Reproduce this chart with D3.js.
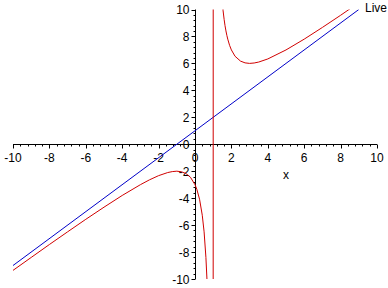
<!DOCTYPE html>
<html lang="en">
<head>
  <meta charset="UTF-8">
  <title>Maple plot</title>
  <script src="https://d3js.org/d3.v7.min.js"></script>
  <style>
    body { margin: 0; background: #fff; }
    text { font-family: "Liberation Sans", Arial, sans-serif; font-size: 12px; fill: #000; }
  </style>
</head>
<body>
<script type="text/javascript">
    // red curve, sampled along x (one polyline, jumps across x = 1)
    var redX = [-10, -9, -8, -7, -6, -5, -4, -3, -2.5, -2, -1.5, -1.25, -1, -0.75, -0.5, -0.25, 0, 0.1, 0.25, 0.4, 0.5, 0.6, 0.66, 0.98,
                1.02, 1.54, 1.6, 1.65, 1.7, 1.75, 1.8, 1.9, 2, 2.2, 2.5, 2.75, 3, 3.25, 3.5, 4, 5, 6, 7, 8, 8.46, 9, 10];
    var redY = [-9.36, -8.4, -7.44, -6.5, -5.57, -4.67, -3.8, -3, -2.64, -2.33, -2.1, -2.03, -2, -2.04, -2.17, -2.45, -3, -3.34, -4.08, -5.27, -6.5, -8.4, -10.1, -198,
                202, 9.95, 9.27, 8.8, 8.41, 8.08, 7.8, 7.34, 7, 6.53, 6.17, 6.04, 6, 6.03, 6.1, 6.33, 7, 7.8, 8.67, 9.57, 10, 10.5, 12.44];
    // blue line
    var blueX = [-10, 9];
    var blueY = [-9, 10];

    var xTicks = [-10, -8, -6, -4, -2, 0, 2, 4, 6, 8, 10];
    var yTicks = [-10, -8, -6, -4, -2, 0, 2, 4, 6, 8, 10];

    var width = 388, height = 288;

    var svg = d3.select("body").append("svg")
                               .attr("width", width)
                               .attr("height", height);

    var x = d3.scaleLinear().domain([-10, 10]).range([13, 377]);
    var y = d3.scaleLinear().domain([-10, 10]).range([279, 9.5]);

    svg.append("clipPath").attr("id", "clip")
       .append("rect")
       .attr("x", x(-10)).attr("y", y(10))
       .attr("width", x(10) - x(-10)).attr("height", y(-10) - y(10));

    var minor = d3.range(-10, 10.001, 0.4).map(function(d){ return Math.round(d * 10) / 10; });

    // x axis (ticks hang below)
    var gx = svg.append("g").attr("transform", "translate(0," + Math.round(y(0)) + ".5)");
    gx.append("line").attr("x1", x(-10)).attr("x2", x(10)).attr("stroke", "#000");
    gx.selectAll("line.mn").data(minor).enter().append("line")
      .attr("class", "mn")
      .attr("x1", function(d){ return Math.round(x(d)) + 0.5; })
      .attr("x2", function(d){ return Math.round(x(d)) + 0.5; })
      .attr("y1", 0)
      .attr("y2", function(d){ return xTicks.indexOf(d) >= 0 ? 4 : 2; })
      .attr("stroke", "#000");
    gx.selectAll("text").data(xTicks).enter().append("text")
      .attr("x", function(d){ return x(d); })
      .attr("y", 17)
      .attr("text-anchor", "middle")
      .text(function(d){ return d; });

    // y axis (ticks point left)
    var gy = svg.append("g").attr("transform", "translate(" + Math.round(x(0)) + ".5,0)");
    gy.append("line").attr("y1", y(-10)).attr("y2", y(10)).attr("stroke", "#000");
    gy.selectAll("line.mn").data(minor).enter().append("line")
      .attr("class", "mn")
      .attr("y1", function(d){ return Math.round(y(d)) + 0.5; })
      .attr("y2", function(d){ return Math.round(y(d)) + 0.5; })
      .attr("x1", 0)
      .attr("x2", function(d){ return yTicks.indexOf(d) >= 0 ? -4 : -2; })
      .attr("stroke", "#000");
    gy.selectAll("text").data(yTicks).enter().append("text")
      .attr("x", -6)
      .attr("y", function(d){ return y(d) + 4.5; })
      .attr("text-anchor", "end")
      .text(function(d){ return d; });

    svg.append("text").attr("x", 286).attr("y", 179).attr("text-anchor", "middle").text("x");

    var line = d3.line()
      .x(function(d){ return x(d[0]); })
      .y(function(d){ return y(d[1]); });

    var plot = svg.append("g").attr("clip-path", "url(#clip)");

    plot.append("path")
        .attr("d", line(d3.zip(blueX, blueY)))
        .attr("fill", "none")
        .attr("stroke", "#0000c8")
        .attr("stroke-width", 1);

    plot.append("path")
        .attr("d", line(d3.zip(redX, redY)))
        .attr("fill", "none")
        .attr("stroke", "#d00000")
        .attr("stroke-width", 1);

    svg.append("text").attr("x", 365).attr("y", 12).text("Live");
</script>
</body>
</html>
